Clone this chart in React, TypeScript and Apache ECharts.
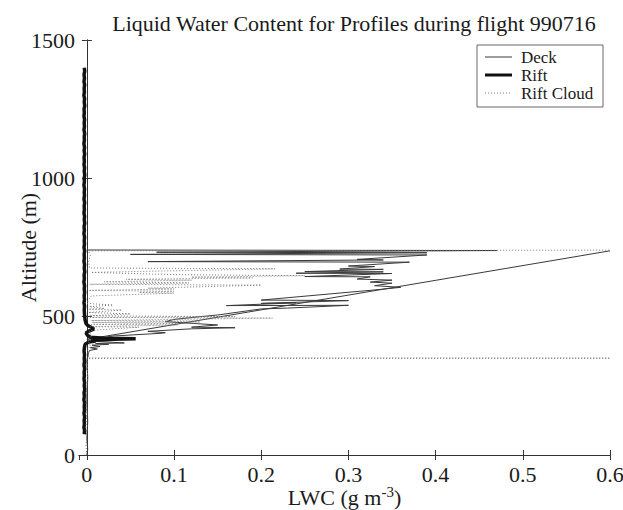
import React, { useEffect, useRef } from "react";
import * as echarts from "echarts";

const titleText = "Liquid Water Content for Profiles during flight 990716";
const seriesNames = ["Deck", "Rift", "Rift Cloud"];
const xTickMin = -0.009;
const xTickMax = 0.6;
const yTickMin = 0;
const yTickMax = 1500;
const yTickStep = 500;

// [LWC (g m^-3), altitude (m)]
const deckData: (number[] | string)[] = [
  [0.0, 741], [0.47, 739], [0.08, 733], [0.39, 731], [0.05, 725], [0.39, 723],
  [0.31, 707], [0.34, 705], [0.07, 699], [0.37, 697], [0.3, 683], [0.33, 681],
  [0.29, 672], [0.34, 671], [0.25, 663], [0.34, 662], [0.24, 657], [0.35, 656],
  [0.25, 645], [0.325, 644], [0.31, 636], [0.35, 632], [0.325, 625], [0.35, 621],
  [0.33, 612], [0.36, 606], [0.335, 598], [0.2, 560], [0.3, 558], [0.2, 548],
  [0.24, 550], [0.16, 540], [0.3, 541], [0.23, 531], [0.2, 528], [0.15, 506],
  [0.13, 500], [0.1, 490], [0.09, 482], [0.15, 470], [0.12, 462], [0.17, 460],
  [0.12, 456], [0.07, 447], [0.09, 442], [0.085, 440], [0.03, 430], [0.01, 420],
  [0.0, 418], [0.6, 738], "-",
  [0.002, 412], [0.043, 405], [0.01, 403], [0.025, 400], [0.006, 397], [0.015, 392],
  [0.004, 388], [0.012, 383], [0.003, 378], [0.002, 370], [0.0, 340], [0.001, 280],
  [0.0, 200], [0.001, 120], [0.0, 60], [0.001, 20], [0.0, 0],
];

const riftData: number[][] = [
  [-0.0030, 1400], [-0.0024, 1388], [-0.0032, 1375], [-0.0027, 1362], [-0.0033, 1350],
  [-0.0025, 1338], [-0.0031, 1325], [-0.0028, 1312], [-0.0034, 1300], [-0.0026, 1288],
  [-0.0030, 1275], [-0.0024, 1262], [-0.0032, 1250], [-0.0029, 1238], [-0.0033, 1225],
  [-0.0026, 1212], [-0.0031, 1200], [-0.0027, 1188], [-0.0033, 1175], [-0.0025, 1162],
  [-0.0030, 1150], [-0.0028, 1138], [-0.0034, 1125], [-0.0026, 1112], [-0.0031, 1100],
  [-0.0025, 1088], [-0.0032, 1075], [-0.0028, 1062], [-0.0033, 1050], [-0.0026, 1038],
  [-0.0030, 1025], [-0.0024, 1012], [-0.0031, 1000], [-0.0028, 988], [-0.0034, 975],
  [-0.0026, 962], [-0.0030, 950], [-0.0027, 938], [-0.0033, 925], [-0.0025, 912],
  [-0.0031, 900], [-0.0028, 888], [-0.0033, 875], [-0.0026, 862], [-0.0030, 850],
  [-0.0024, 838], [-0.0032, 825], [-0.0028, 812], [-0.0034, 800], [-0.0026, 788],
  [-0.0030, 775], [-0.0027, 762], [-0.0033, 750], [-0.0025, 738], [-0.0031, 725],
  [-0.0028, 712], [-0.0033, 700], [-0.0026, 688], [-0.0030, 675], [-0.0024, 662],
  [-0.0032, 650], [-0.0028, 638], [-0.0034, 625], [-0.0026, 612], [-0.0030, 600],
  [-0.0025, 588], [-0.0031, 575], [-0.0027, 562], [-0.0033, 550], [-0.0026, 538],
  [-0.0030, 525], [-0.0028, 512], [-0.0024, 500], [-0.0020, 488], [-0.0010, 476],
  [0.0010, 468], [0.0060, 460], [0.0080, 455], [0.0030, 449], [-0.0010, 441],
  [0.0010, 432], [0.0040, 426], [0.0200, 422], [0.0560, 420], [0.0300, 418],
  [0.0050, 415], [0.0100, 412], [0.0020, 408], [-0.0020, 400], [-0.0028, 388],
  [-0.0032, 375], [-0.0026, 362], [-0.0030, 350], [-0.0027, 338], [-0.0033, 325],
  [-0.0025, 312], [-0.0031, 300], [-0.0028, 288], [-0.0033, 275], [-0.0026, 262],
  [-0.0030, 250], [-0.0024, 238], [-0.0032, 225], [-0.0028, 212], [-0.0034, 200],
  [-0.0026, 188], [-0.0030, 175], [-0.0027, 162], [-0.0033, 150], [-0.0025, 138],
  [-0.0031, 125], [-0.0028, 112], [-0.0033, 100], [-0.0026, 88], [-0.0030, 75],
];

const riftCloudData: number[][] = [
  [0.0, 0], [-0.001, 30], [0.0, 60], [-0.001, 100], [0.0, 150], [-0.001, 200],
  [0.0, 250], [0.001, 300], [0.0, 349], [0.7, 350], [0.002, 351], [0.001, 380],
  [0.004, 395], [0.002, 410], [0.005, 430], [0.003, 450], [0.06, 462], [0.004, 464],
  [0.104, 470], [0.005, 472], [0.13, 477], [0.006, 479], [0.13, 484], [0.005, 486],
  [0.213, 495], [0.004, 497], [0.17, 500], [0.003, 503], [0.05, 510], [0.002, 515],
  [0.04, 524], [0.002, 527], [0.02, 530], [0.003, 536], [0.03, 542], [0.0, 548],
  [0.002, 560], [0.005, 575], [0.1, 585], [0.06, 588], [0.1, 592], [0.002, 595],
  [0.1, 600], [0.07, 603], [0.2, 614], [0.003, 617], [0.117, 622], [0.02, 626],
  [0.12, 632], [0.045, 635], [0.19, 640], [0.12, 643], [0.25, 648], [0.1, 652],
  [0.005, 660], [0.216, 673], [0.003, 676], [0.002, 700], [0.004, 720],
  [0.002, 738], [0.7, 741],
];

const FONT = "Liberation Serif";
const INK = "#1a1a1a";
const DECK_COLOR = "#3a3a3a";
const RIFT_COLOR = "#111111";
const CLOUD_COLOR = "#777777";

export default function App() {
  const ref = useRef<HTMLDivElement>(null);
  useEffect(() => {
    if (!ref.current) return;
    const chart = echarts.init(ref.current, undefined, { renderer: "svg" });
    const axisLine = { show: true, lineStyle: { color: "#333", width: 1 } };
    const tick = { show: true, inside: true, length: 5, lineStyle: { color: "#333" } };
    const legendX = 477;
    const legendY = 45;
    const legendRows = [57, 75, 93];
    const legendGraphics: any[] = [
      {
        type: "rect",
        shape: { x: legendX, y: legendY, width: 126, height: 62 },
        style: { fill: "#fff", stroke: "#666", lineWidth: 1 },
        z: 100,
      },
    ];
    const legendStyles = [
      { stroke: DECK_COLOR, lineWidth: 1 },
      { stroke: RIFT_COLOR, lineWidth: 3 },
      { stroke: CLOUD_COLOR, lineWidth: 1, lineDash: [1, 2] },
    ];
    seriesNames.forEach((n, i) => {
      legendGraphics.push({
        type: "line",
        shape: { x1: 485, y1: legendRows[i], x2: 512, y2: legendRows[i] },
        style: legendStyles[i],
        z: 101,
      });
      legendGraphics.push({
        type: "text",
        x: 521,
        y: legendRows[i],
        style: {
          text: n,
          fontFamily: FONT,
          fontSize: 17,
          fill: INK,
          verticalAlign: "middle",
          textAlign: "left",
        },
        z: 101,
      });
    });
    chart.setOption({
      animation: false,
      backgroundColor: "#fff",
      title: {
        text: titleText,
        left: 349,
        textAlign: "center",
        top: 7,
        textStyle: { fontFamily: FONT, fontSize: 22, fontWeight: "normal", color: INK },
      },
      graphic: legendGraphics,
      grid: {
        left: 79,
        right: 13,
        top: 40,
        bottom: 55,
        containLabel: false,
        outerBoundsMode: "none",
      },
      xAxis: [
        {
          type: "value",
          min: xTickMin,
          max: xTickMax,
          splitNumber: 6,
          position: "bottom",
          axisLine,
          axisTick: tick,
          splitLine: { show: false },
          axisLabel: {
            showMinLabel: false,
            margin: 8,
            fontFamily: FONT,
            fontSize: 22,
            color: INK,
            formatter: (v: number) => (v < 0 ? "" : String(Math.round(v * 10) / 10)),
          },
          name: "LWC (g m{sup|-3})",
          nameLocation: "middle",
          nameGap: 29,
          nameMoveOverlap: false,
          nameTextStyle: {
            fontFamily: FONT,
            fontSize: 22,
            color: INK,
            rich: {
              sup: { fontFamily: FONT, fontSize: 15, color: INK, verticalAlign: "top", padding: [0, 0, 12, 0] },
            },
          },
        },
        {
          type: "value",
          min: xTickMin,
          max: xTickMax,
          splitNumber: 6,
          position: "top",
          axisLine,
          axisTick: tick,
          splitLine: { show: false },
          axisLabel: { show: false },
        },
      ],
      yAxis: [
        {
          type: "value",
          min: yTickMin,
          max: yTickMax,
          interval: yTickStep,
          position: "left",
          axisLine,
          axisTick: tick,
          splitLine: { show: false },
          axisLabel: {
            margin: 4,
            fontFamily: FONT,
            fontSize: 22,
            color: INK,
            formatter: (v: number) => String(v),
          },
          name: "Altitude (m)",
          nameLocation: "middle",
          nameGap: 40,
          nameMoveOverlap: false,
          nameTextStyle: { fontFamily: FONT, fontSize: 22, color: INK },
        },
        {
          type: "value",
          min: yTickMin,
          max: yTickMax,
          interval: yTickStep,
          position: "right",
          axisLine,
          axisTick: tick,
          splitLine: { show: false },
          axisLabel: { show: false },
        },
      ],
      series: [
        {
          name: seriesNames[0],
          type: "line",
          data: deckData,
          showSymbol: false,
          symbol: "none",
          clip: true,
          lineStyle: { color: DECK_COLOR, width: 1 },
          itemStyle: { color: DECK_COLOR },
        },
        {
          name: seriesNames[1],
          type: "line",
          data: riftData,
          showSymbol: false,
          symbol: "none",
          clip: true,
          lineStyle: { color: RIFT_COLOR, width: 3.5 },
          itemStyle: { color: RIFT_COLOR },
        },
        {
          name: seriesNames[2],
          type: "line",
          data: riftCloudData,
          showSymbol: false,
          symbol: "none",
          clip: true,
          lineStyle: { color: CLOUD_COLOR, width: 1, type: [1, 2] },
          itemStyle: { color: CLOUD_COLOR },
        },
      ],
    });
    return () => chart.dispose();
  }, []);
  return (
    <div
      ref={ref}
      style={{ position: "fixed", left: 0, top: 0, width: 623, height: 510, background: "#fff" }}
    />
  );
}
